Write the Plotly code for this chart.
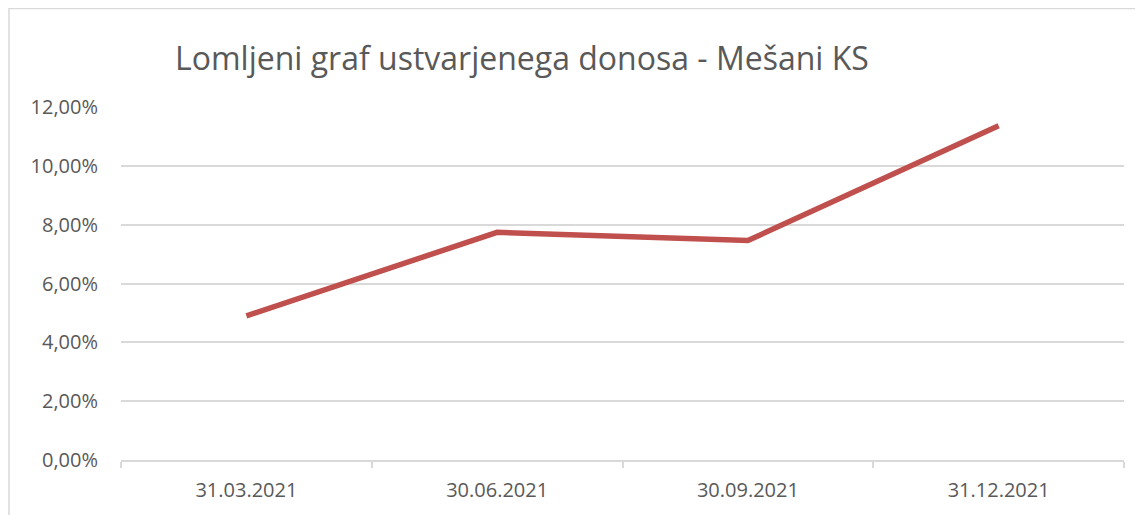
import plotly.graph_objects as go

categories = ["31.03.2021", "30.06.2021", "30.09.2021", "31.12.2021"]
values = [0.0490, 0.0774, 0.0746, 0.1136]
y_ticks = [0, 0.02, 0.04, 0.06, 0.08, 0.10, 0.12]

title_text = "Lomljeni graf ustvarjenega donosa - Mešani KS"
font_family = "Open Sans"
text_color = "#595959"
grid_color = "#d9d9d9"

# page body has an 8px default margin; compensate so plot lands where the reference has it
fig = go.Figure()
fig.add_trace(go.Scatter(
    x=categories, y=values, mode="lines",
    line=dict(color="#C0504D", width=5.5),
    hoverinfo="skip",
))

fig.update_layout(
    width=1135, height=507,
    margin=dict(l=113, r=19, t=99, b=53),
    paper_bgcolor="white", plot_bgcolor="white",
    separators=",.",
    showlegend=False,
    font=dict(family=font_family, color=text_color, size=20),
    annotations=[dict(
        text=title_text, xref="paper", yref="paper",
        x=(173 - 121) / 1003, y=(462 - 57) / 355,
        xanchor="left", yanchor="middle", showarrow=False,
        font=dict(size=32, color=text_color, family=font_family),
    )],
    shapes=[dict(
        type="rect", xref="paper", yref="paper",
        x0=(9 - 121) / 1003, x1=1.2, y0=-0.5, y1=(462 - 8) / 355,
        line=dict(color=grid_color, width=1.5), layer="below",
    )],
)

fig.update_xaxes(
    type="category", range=[-0.5, 3.5],
    showline=True, linecolor=grid_color, linewidth=1.5,
    ticks="outside", tickson="boundaries", ticklen=6, tickcolor=grid_color, tickwidth=1.5,
    showgrid=False, tickfont=dict(size=20, color=text_color),
    ticklabelstandoff=11,
)
fig.update_yaxes(
    range=[0, 0.12], tickvals=y_ticks, tickformat=".2%",
    showgrid=True, gridcolor=grid_color, gridwidth=1.5,
    zeroline=False, showline=False, ticks="",
    tickfont=dict(size=20, color=text_color),
    ticklabelstandoff=22,
)

fig.write_html("out.html")
